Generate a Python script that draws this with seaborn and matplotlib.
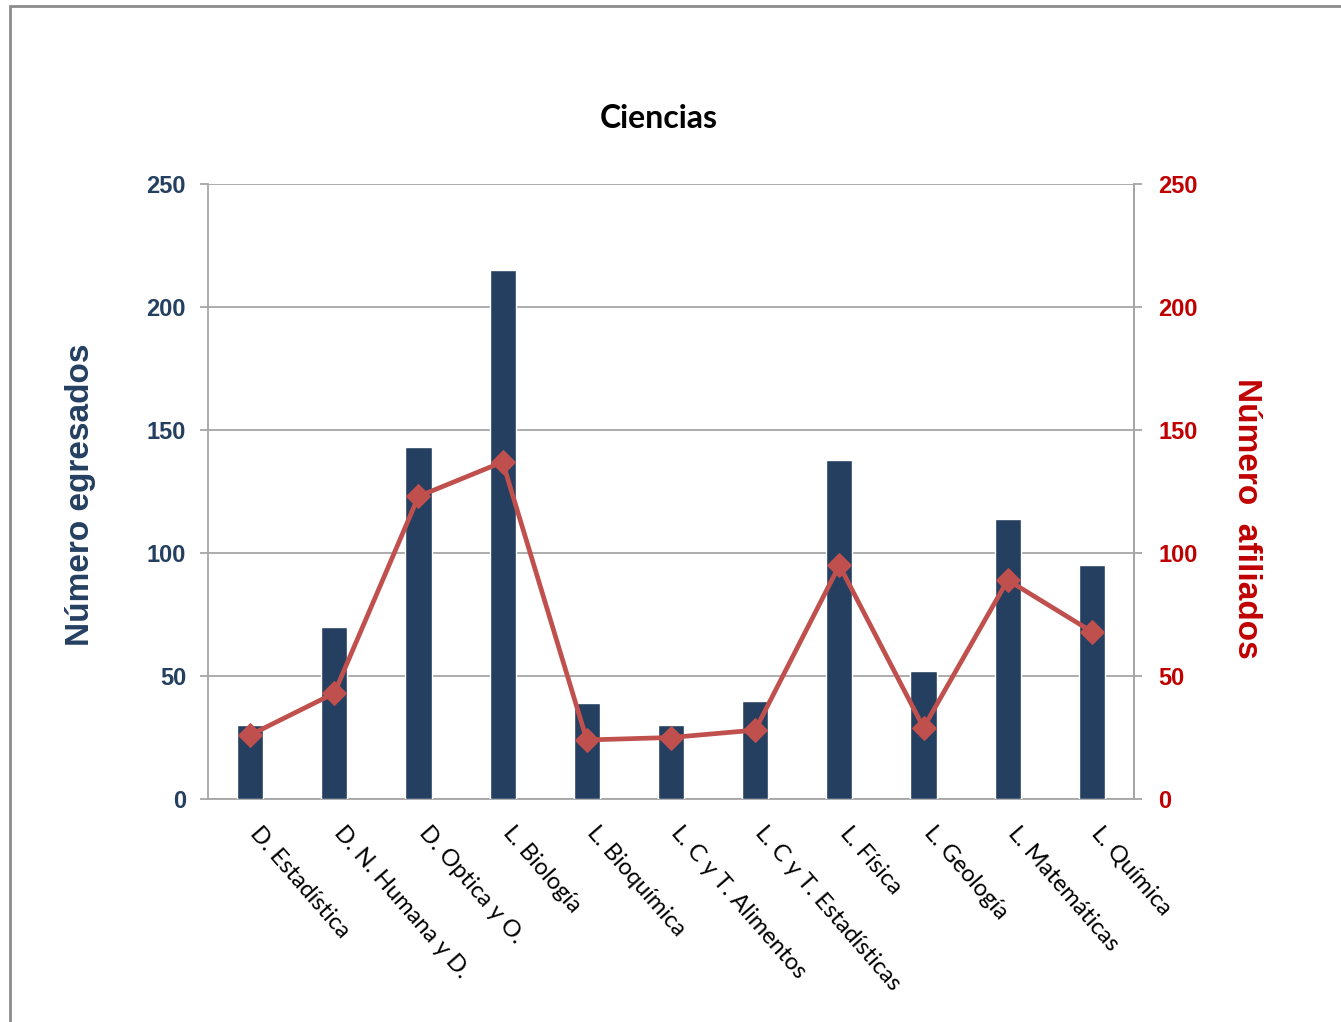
import numpy as np
import pandas as pd
import matplotlib
matplotlib.use("Agg")
import matplotlib.pyplot as plt
import matplotlib.transforms as mtransforms
from matplotlib import font_manager
from matplotlib.patches import Rectangle
import seaborn as sns

categorias = ["D. Estadística", "D. N. Humana y D.", "D. Optica y O.", "L. Biología",
              "L. Bioquímica", "L. C y T. Alimentos", "L. C y T. Estadísticas",
              "L. Física", "L. Geología", "L. Matemáticas", "L. Química"]
egresados = [30, 70, 143, 215, 39, 30, 40, 138, 52, 114, 95]
afiliados = [26, 43, 123, 137, 24, 25, 28, 95, 29, 89, 68]
yticks = [0, 50, 100, 150, 200, 250]

titulo = "Ciencias"
ylabel_izq = "Número egresados"
ylabel_der = "Número  afiliados"

bar_color = "#243F60"
line_color = "#C0504D"
left_txt = "#243F60"
right_txt = "#C00000"
grid_color = "#A6A6A6"

sns.set_theme(style="white")
plt.rcParams['font.family'] = ['Lato', 'DejaVu Sans']

names = {f.name for f in font_manager.fontManager.ttflist}
narrow = 'Liberation Sans Narrow' if 'Liberation Sans Narrow' in names else 'Liberation Sans'

df = pd.DataFrame({"cat": categorias, "egr": egresados, "afi": afiliados})

fig = plt.figure(figsize=(13.41, 10.22), dpi=100)
ax = fig.add_axes([208/1341, 1-799/1022, (1134-208)/1341, (799-184)/1022])

sns.barplot(data=df, x="cat", y="egr", color=bar_color, width=0.31,
            saturation=1, ax=ax, zorder=3)
ax.set_ylim(0, 250)
ax.set_xlim(-0.5, len(categorias) - 0.5)
ax.set_yticks(yticks)
ax.yaxis.grid(True, color=grid_color, linewidth=1.3, zorder=0)
ax.set_axisbelow(True)
ax.set_xlabel("")
ax.set_ylabel(ylabel_izq, fontsize=24, fontweight="bold", color=left_txt,
              family=['Liberation Sans', 'DejaVu Sans'], ha="center", va="center")
ax.yaxis.set_label_coords((81-208)/926, (799-495)/615)

for s in ["left", "bottom", "right"]:
    ax.spines[s].set_color(grid_color)
    ax.spines[s].set_linewidth(1.3)
ax.spines["top"].set_visible(False)

ax.tick_params(axis="y", which="both", left=True, length=5.8, width=1.3,
               color=grid_color, pad=10)
ax.tick_params(axis="x", length=0, pad=17)
for lab in ax.get_yticklabels():
    lab.set_fontfamily([narrow, 'Liberation Sans', 'DejaVu Sans'])
    lab.set_fontweight("bold")
    lab.set_fontsize(17)
    lab.set_color(left_txt)

ax.set_xticks(range(len(categorias)))
ax.set_xticklabels(categorias, rotation=-49, ha="left", va="top",
                   rotation_mode="anchor", fontsize=17, color="black")
shift = mtransforms.ScaledTranslation(12/100, 0, fig.dpi_scale_trans)
for lab in ax.get_xticklabels():
    lab.set_transform(lab.get_transform() + shift)

ax2 = ax.twinx()
sns.lineplot(x=np.arange(len(categorias)), y=afiliados, ax=ax2, color=line_color,
             linewidth=3.4, marker="D", markersize=12, markeredgecolor=line_color,
             zorder=4)
ax2.set_ylim(0, 250)
ax2.set_yticks(yticks)
ax2.set_xlim(-0.5, len(categorias) - 0.5)
for s in ["left", "top", "bottom"]:
    ax2.spines[s].set_visible(False)
ax2.spines["right"].set_color(grid_color)
ax2.spines["right"].set_linewidth(1.3)
ax2.tick_params(axis="y", right=True, length=5.8, width=1.3, color=grid_color, pad=11.5)
for lab in ax2.get_yticklabels():
    lab.set_fontfamily(['Liberation Sans', 'DejaVu Sans'])
    lab.set_fontweight("bold")
    lab.set_fontsize(17)
    lab.set_color(right_txt)
ax2.set_ylabel(ylabel_der, fontsize=24, fontweight="bold", color=right_txt,
               rotation=-90, family=['Liberation Sans', 'DejaVu Sans'],
               ha="center", va="center")
ax2.yaxis.set_label_coords((1247-208)/926, (799-518)/615)

fig.text(659/1341, 1-119/1022, titulo, ha="center", va="center", fontsize=23,
         fontweight="bold", color="black")

fig.patches.append(Rectangle((10/1341, -0.05), 1.2, 1-6/1022+0.05,
                             transform=fig.transFigure, fill=False,
                             edgecolor="#8C8C8C", linewidth=2, zorder=10))

fig.savefig("out.png", dpi=100)
